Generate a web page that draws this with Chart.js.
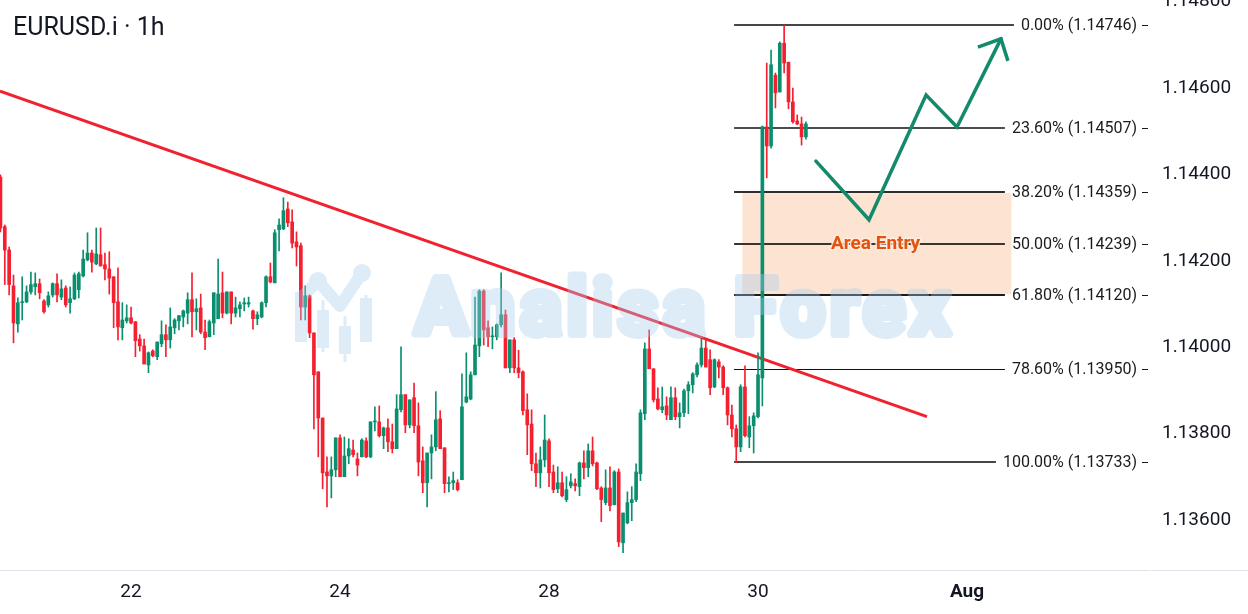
<!DOCTYPE html>
<html><head><meta charset="utf-8">
<script src="https://cdn.jsdelivr.net/npm/chart.js@4.4.1/dist/chart.umd.min.js"></script>
<style>html,body{margin:0;padding:0;background:#fff;overflow:hidden}canvas{display:block}</style>
</head><body>
<canvas id="c" width="1248" height="614"></canvas>
<script>
// ---- data (hourly EURUSD.i candles, index = bar number) ----
const opens = [1.14394,1.14279,1.14225,1.14142,1.14054,1.14103,1.14105,1.14128,1.14140,1.14147,1.14107,1.14098,1.14121,1.14147,1.14116,1.14137,1.14103,1.14112,1.14133,1.14165,1.14202,1.14218,1.14193,1.14214,1.14191,1.14181,1.14163,1.14105,1.14045,1.14061,1.14068,1.14059,1.14019,1.14003,1.13959,1.13991,1.13978,1.14008,1.14029,1.14017,1.14045,1.14061,1.14070,1.14079,1.14110,1.14082,1.14091,1.14035,1.14024,1.14056,1.14066,1.14126,1.14079,1.14128,1.14079,1.14089,1.14100,1.14100,1.14084,1.14066,1.14070,1.14103,1.14163,1.14149,1.14272,1.14274,1.14320,1.14290,1.14244,1.14235,1.14093,1.14119,1.14033,1.13943,1.13836,1.13711,1.13702,1.13716,1.13790,1.13700,1.13748,1.13762,1.13741,1.13746,1.13783,1.13746,1.13827,1.13827,1.13795,1.13813,1.13781,1.13765,1.13855,1.13890,1.13820,1.13883,1.13818,1.13737,1.13686,1.13755,1.13769,1.13834,1.13767,1.13684,1.13686,1.13686,1.13693,1.13873,1.13880,1.13936,1.14003,1.14130,1.14045,1.14024,1.14024,1.14052,1.14075,1.13952,1.14017,1.13952,1.13943,1.13855,1.13822,1.13730,1.13709,1.13739,1.13783,1.13711,1.13672,1.13686,1.13647,1.13679,1.13684,1.13677,1.13732,1.13721,1.13760,1.13732,1.13674,1.13640,1.13674,1.13635,1.13711,1.13547,1.13593,1.13640,1.13647,1.13707,1.13846,1.13996,1.13950,1.13880,1.13855,1.13864,1.13832,1.13883,1.13839,1.13848,1.13899,1.13913,1.13936,1.13959,1.13998,1.13971,1.13908,1.13966,1.13954,1.13906,1.13843,1.13811,1.13769,1.13908,1.13792,1.13818,1.13839,1.13929,1.14510,1.14466,1.14630,1.14591,1.14704,1.14660,1.14568,1.14524,1.14517,1.14487];
const highs = [1.14399,1.14283,1.14232,1.14167,1.14114,1.14163,1.14142,1.14174,1.14172,1.14158,1.14110,1.14128,1.14149,1.14170,1.14156,1.14142,1.14140,1.14172,1.14174,1.14225,1.14265,1.14225,1.14276,1.14276,1.14218,1.14221,1.14163,1.14184,1.14103,1.14098,1.14093,1.14059,1.14029,1.14019,1.13989,1.13994,1.14012,1.14061,1.14052,1.14091,1.14066,1.14073,1.14086,1.14126,1.14172,1.14112,1.14123,1.14063,1.14063,1.14126,1.14204,1.14174,1.14128,1.14128,1.14116,1.14105,1.14114,1.14116,1.14086,1.14082,1.14105,1.14165,1.14195,1.14272,1.14297,1.14346,1.14336,1.14318,1.14267,1.14241,1.14142,1.14121,1.14033,1.13943,1.13836,1.13746,1.13746,1.13790,1.13797,1.13792,1.13788,1.13785,1.13755,1.13788,1.13790,1.13827,1.13862,1.13864,1.13815,1.13834,1.13822,1.13890,1.14001,1.13890,1.13878,1.13917,1.13871,1.13769,1.13755,1.13797,1.13897,1.13853,1.13767,1.13700,1.13711,1.13693,1.13938,1.13987,1.13943,1.14116,1.14133,1.14133,1.14061,1.14047,1.14054,1.14172,1.14086,1.14017,1.14022,1.13993,1.13945,1.13892,1.13855,1.13755,1.13769,1.13843,1.13788,1.13727,1.13723,1.13711,1.13700,1.13707,1.13695,1.13734,1.13760,1.13776,1.13792,1.13734,1.13677,1.13716,1.13723,1.13714,1.13718,1.13616,1.13665,1.13677,1.13730,1.13855,1.14010,1.14040,1.13950,1.13906,1.13908,1.13885,1.13908,1.13906,1.13871,1.13903,1.13920,1.13941,1.13964,1.14019,1.14017,1.13994,1.13973,1.13971,1.13957,1.13908,1.13866,1.13820,1.13913,1.13957,1.13839,1.13848,1.13987,1.14512,1.14658,1.14688,1.14635,1.14707,1.14746,1.14660,1.14600,1.14538,1.14533,1.14522];
const lows = [1.14267,1.14145,1.14121,1.14010,1.14035,1.14063,1.14103,1.14123,1.14121,1.14112,1.14079,1.14093,1.14116,1.14105,1.14110,1.14093,1.14079,1.14110,1.14114,1.14163,1.14200,1.14174,1.14191,1.14188,1.14156,1.14123,1.14045,1.14017,1.14017,1.14056,1.14054,1.13978,1.13991,1.13961,1.13941,1.13978,1.13971,1.14001,1.13978,1.13998,1.14031,1.14040,1.14047,1.14054,1.14024,1.14040,1.14031,1.13994,1.14024,1.14029,1.14066,1.14068,1.14077,1.14054,1.14070,1.14070,1.14084,1.14093,1.14042,1.14052,1.14068,1.14093,1.14149,1.14149,1.14223,1.14272,1.14279,1.14230,1.14188,1.14063,1.14063,1.14022,1.13811,1.13746,1.13672,1.13630,1.13651,1.13700,1.13700,1.13700,1.13730,1.13746,1.13702,1.13746,1.13744,1.13744,1.13806,1.13792,1.13765,1.13758,1.13755,1.13765,1.13850,1.13802,1.13813,1.13802,1.13702,1.13663,1.13630,1.13695,1.13760,1.13765,1.13663,1.13665,1.13670,1.13667,1.13693,1.13871,1.13878,1.13936,1.13978,1.14005,1.14001,1.13996,1.14017,1.14047,1.13952,1.13941,1.13941,1.13929,1.13843,1.13751,1.13714,1.13677,1.13674,1.13723,1.13677,1.13663,1.13663,1.13653,1.13642,1.13674,1.13667,1.13656,1.13695,1.13700,1.13725,1.13670,1.13596,1.13635,1.13621,1.13635,1.13538,1.13524,1.13591,1.13598,1.13642,1.13691,1.13832,1.13950,1.13873,1.13855,1.13848,1.13832,1.13832,1.13832,1.13813,1.13839,1.13846,1.13894,1.13931,1.13954,1.13954,1.13890,1.13906,1.13929,1.13890,1.13820,1.13792,1.13733,1.13758,1.13792,1.13767,1.13755,1.13836,1.13864,1.14392,1.14461,1.14554,1.14591,1.14635,1.14552,1.14519,1.14515,1.14468,1.14482];
const closes = [1.14276,1.14225,1.14145,1.14056,1.14103,1.14105,1.14128,1.14145,1.14147,1.14126,1.14082,1.14119,1.14147,1.14121,1.14135,1.14098,1.14112,1.14167,1.14170,1.14204,1.14218,1.14197,1.14216,1.14188,1.14181,1.14160,1.14103,1.14047,1.14063,1.14068,1.14056,1.14015,1.14003,1.13961,1.13987,1.13980,1.14012,1.14029,1.14017,1.14047,1.14063,1.14073,1.14084,1.14110,1.14082,1.14089,1.14035,1.14022,1.14059,1.14126,1.14123,1.14079,1.14128,1.14079,1.14091,1.14098,1.14103,1.14103,1.14066,1.14075,1.14103,1.14163,1.14151,1.14265,1.14283,1.14316,1.14288,1.14241,1.14232,1.14093,1.14119,1.14033,1.13936,1.13836,1.13709,1.13702,1.13716,1.13790,1.13700,1.13748,1.13765,1.13751,1.13727,1.13785,1.13746,1.13827,1.13829,1.13795,1.13813,1.13781,1.13765,1.13857,1.13890,1.13820,1.13878,1.13818,1.13734,1.13686,1.13755,1.13769,1.13832,1.13765,1.13684,1.13686,1.13691,1.13670,1.13862,1.13885,1.13936,1.14005,1.14130,1.14040,1.14024,1.14026,1.14052,1.14075,1.13952,1.14017,1.13952,1.13941,1.13853,1.13820,1.13730,1.13709,1.13739,1.13785,1.13709,1.13670,1.13686,1.13656,1.13670,1.13688,1.13679,1.13732,1.13721,1.13760,1.13730,1.13672,1.13647,1.13674,1.13633,1.13711,1.13549,1.13616,1.13640,1.13647,1.13711,1.13848,1.13996,1.13950,1.13878,1.13857,1.13862,1.13843,1.13883,1.13839,1.13848,1.13899,1.13913,1.13938,1.13959,1.13998,1.13954,1.13906,1.13971,1.13954,1.13906,1.13843,1.13811,1.13769,1.13908,1.13795,1.13818,1.13841,1.13936,1.14510,1.14466,1.14654,1.14589,1.14704,1.14658,1.14568,1.14522,1.14517,1.14487,1.14517];

const dayTickIdx = [30, 78, 126, 174, 222];
const dayLabels = ['22', '24', '28', '30', 'Aug'];
const priceTicks = [1.136, 1.138, 1.140, 1.142, 1.144, 1.146, 1.148];

const fibNames = ['0.00%', '23.60%', '38.20%', '50.00%', '61.80%', '78.60%', '100.00%'];
const fibPrices = [1.14746, 1.14507, 1.14359, 1.14239, 1.14120, 1.13950, 1.13733];
const fibStartIdx = 168.5;

const zoneIdx = [170.4, 232.2];
const zonePrices = [1.14359, 1.14120];
const zoneLabel = 'Area Entry';
const zoneLabelAt = [201.0, 1.14239];

const trendIdx = [-0.1, 212.8];
const trendPrices = [1.14593, 1.13839];

const pathIdx = [187.3, 199.5, 212.6, 219.7, 229.8];
const pathPrices = [1.14431, 1.14295, 1.14584, 1.14510, 1.14714];
const headIdx = [224.5, 229.8, 231.4];
const headPrices = [1.14695, 1.14714, 1.14663];

const title = 'EURUSD.i · 1h';
const watermark = 'Analisa Forex';

// ---- styles ----
const UP = '#0a8f6e', DOWN = '#f5202f', TREND = '#f1212f', ARROW = '#138a6b';
const TXT = '#131722';
const candleColors = closes.map((c, i) => c >= opens[i] ? UP : DOWN);

const overlay = {
  id: 'overlay',
  beforeDatasetsDraw(chart) {
    const {ctx, scales: {x, y}} = chart;
    ctx.save();
    const zx0 = x.getPixelForValue(zoneIdx[0]), zx1 = x.getPixelForValue(zoneIdx[1]);
    const zy0 = y.getPixelForValue(zonePrices[0]), zy1 = y.getPixelForValue(zonePrices[1]);
    ctx.fillStyle = '#fde4d2';
    ctx.fillRect(zx0, zy0 + 1, zx1 - zx0, zy1 - zy0 - 2);
    const widths = [2, 1.5, 2, 2, 2, 1, 2];
    const cols = ['#454545', '#111111', '#2e2e2e', '#3d342e', '#1c1c1c', '#111111', '#454545'];
    ctx.font = '16px Roboto';
    const right = chart.chartArea.right - 12;
    fibPrices.forEach((p, i) => {
      const label = fibNames[i] + ' (' + p.toFixed(5) + ')';
      const w = ctx.measureText(label).width;
      const py = Math.round(y.getPixelForValue(p));
      ctx.beginPath();
      ctx.strokeStyle = cols[i];
      ctx.lineWidth = widths[i];
      const off = widths[i] % 2 === 1 ? 0.5 : 0;
      ctx.moveTo(x.getPixelForValue(fibStartIdx), py + off);
      ctx.lineTo(right - w - 7, py + off);
      ctx.stroke();
    });
    ctx.restore();
  },
  afterDatasetsDraw(chart) {
    const {ctx, scales: {x, y}} = chart;
    ctx.save();
    // zone label
    ctx.font = 'bold 19px Roboto';
    ctx.textAlign = 'center';
    ctx.textBaseline = 'middle';
    const lx = x.getPixelForValue(zoneLabelAt[0]), ly = y.getPixelForValue(zoneLabelAt[1]);
    ctx.lineWidth = 3; ctx.lineJoin = 'round';
    ctx.strokeStyle = 'rgba(255,236,222,0.9)';
    ctx.strokeText(zoneLabel, lx, ly);
    ctx.fillStyle = '#e4520f';
    ctx.fillText(zoneLabel, lx, ly);
    // watermark (drawn opaque offscreen, composited translucent)
    const off = document.createElement('canvas');
    off.width = chart.width; off.height = chart.height;
    const o = off.getContext('2d');
    const wc = 'rgb(165,203,236)';
    o.fillStyle = wc; o.strokeStyle = wc;
    o.lineJoin = 'round'; o.lineCap = 'round';
    o.font = 'bold 78px Roboto';
    try { o.letterSpacing = '5px'; } catch (e) {}
    o.textBaseline = 'alphabetic';
    o.lineWidth = 8;
    o.strokeText(watermark, 415, 334);
    o.fillText(watermark, 415, 334);
    // logo
    o.lineWidth = 12;
    o.beginPath(); o.moveTo(301, 298); o.lineTo(318, 281); o.lineTo(340, 306); o.lineTo(362, 273); o.stroke();
    o.beginPath(); o.arc(318, 281, 9, 0, Math.PI * 2); o.fill();
    o.beginPath(); o.arc(362, 273, 9, 0, Math.PI * 2); o.fill();
    const bar = (bx, top, h, wt, wb) => { o.fillRect(bx, top, 12, h); o.fillRect(bx + 4.5, wt, 3, wb - wt); };
    bar(295, 292, 50, 292, 342);
    bar(317, 310, 38, 300, 352);
    bar(339, 326, 28, 316, 362);
    bar(360, 298, 44, 295, 342);
    ctx.globalAlpha = 0.37;
    ctx.drawImage(off, 0, 0);
    ctx.restore();
  },
  afterDraw(chart) {
    const {ctx, scales: {y}} = chart;
    ctx.save();
    const right = chart.chartArea.right - 12;
    ctx.font = '16px Roboto';
    ctx.fillStyle = '#1b1b1b';
    ctx.textAlign = 'right';
    ctx.textBaseline = 'middle';
    fibPrices.forEach((p, i) => {
      const label = fibNames[i] + ' (' + p.toFixed(5) + ')';
      const py = Math.round(y.getPixelForValue(p));
      ctx.fillText(label, right, py + 0.5);
      ctx.fillRect(right + 5, py, 6, 1);
    });
    // title
    ctx.textAlign = 'left';
    ctx.textBaseline = 'alphabetic';
    ctx.font = '25px Roboto';
    ctx.fillStyle = TXT;
    ctx.fillText(title, 13, 35);
    // bottom axis line under price scale
    ctx.fillStyle = '#e0e3eb';
    ctx.fillRect(chart.chartArea.right + 2, Math.round(chart.chartArea.bottom), chart.width, 1);
    ctx.restore();
  }
};

new Chart(document.getElementById('c'), {
  type: 'bar',
  data: {
    datasets: [
      { type: 'line', label: 'path', data: pathIdx.map((v, i) => ({x: v, y: pathPrices[i]})),
        borderColor: ARROW, borderWidth: 3.5, pointRadius: 0, tension: 0, order: 0, borderCapStyle: 'round', borderJoinStyle: 'miter' },
      { type: 'line', label: 'head', data: headIdx.map((v, i) => ({x: v, y: headPrices[i]})),
        borderColor: ARROW, borderWidth: 3.5, pointRadius: 0, tension: 0, order: 0, borderCapStyle: 'butt', borderJoinStyle: 'miter' },
      { label: 'body', data: opens.map((o, i) => ({x: i, y: [o, closes[i]]})),
        backgroundColor: candleColors, borderWidth: 0, barThickness: 3, grouped: false, minBarLength: 1, order: 1 },
      { label: 'wick', data: lows.map((l, i) => ({x: i, y: [l, highs[i]]})),
        backgroundColor: candleColors, borderWidth: 0, barThickness: 1, grouped: false, order: 2 },
      { type: 'line', label: 'trend', data: trendIdx.map((v, i) => ({x: v, y: trendPrices[i]})),
        borderColor: TREND, borderWidth: 3, pointRadius: 0, order: 3 }
    ]
  },
  options: {
    responsive: false,
    animation: false,
    devicePixelRatio: 1,
    layout: { padding: 0 },
    plugins: { legend: { display: false }, tooltip: { enabled: false }, title: { display: false } },
    scales: {
      x: {
        type: 'linear', min: -0.1, max: 263.8, offset: false,
        grid: { display: false, drawTicks: false },
        border: { display: true, color: '#e0e3eb', width: 1 },
        afterBuildTicks: s => { s.ticks = dayTickIdx.map(v => ({value: v})); },
        afterFit: s => { s.height = 44; s.paddingLeft = 0; s.paddingRight = 0; },
        ticks: {
          autoSkip: false, maxRotation: 0, padding: 11, color: TXT,
          font: ctx => ({ family: 'Roboto', size: 19, weight: ctx.index === 4 ? 'bold' : 'normal' }),
          callback: v => { const k = dayTickIdx.indexOf(v); return k >= 0 ? dayLabels[k] : ''; }
        }
      },
      y: {
        type: 'linear', position: 'right', min: 1.13484, max: 1.14804, beginAtZero: false,
        grid: { display: false, drawTicks: false },
        border: { display: false },
        afterBuildTicks: s => { s.ticks = priceTicks.map(v => ({value: v})); },
        afterFit: s => { s.width = 99; s.paddingTop = 0; s.paddingBottom = 0; },
        ticks: { padding: 13, color: TXT, font: { family: 'Roboto', size: 19 }, callback: v => v.toFixed(5) }
      }
    }
  },
  plugins: [overlay]
});
</script>
</body></html>
